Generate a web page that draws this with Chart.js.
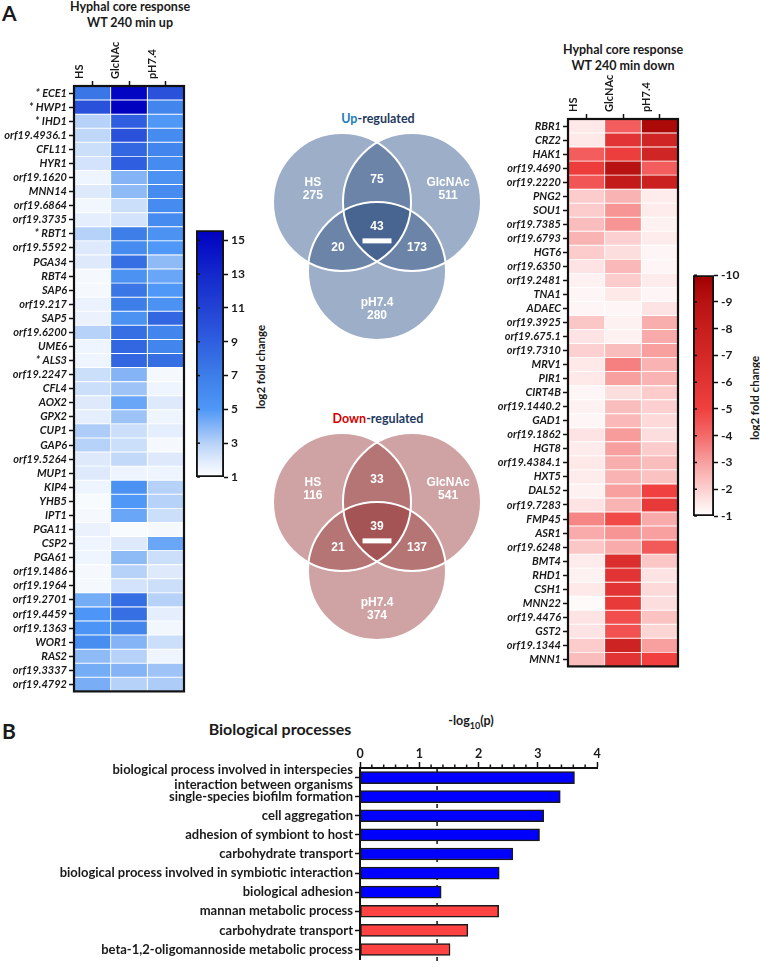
<!DOCTYPE html>
<html><head><meta charset="utf-8">
<script src="https://cdn.jsdelivr.net/npm/chart.js"></script>
<style>
body{margin:0;background:#fff;width:760px;height:974px;position:relative;overflow:hidden;font-family:Lato,'Open Sans',sans-serif;color:#1a1a1a}
canvas{position:absolute}
.t{position:absolute;font-weight:bold;white-space:nowrap}
.c{text-align:center}
.rot{transform:translate(-50%,-50%) rotate(-90deg)}
</style></head><body>
<div class="t" style="left:2px;top:0px;font-size:21px">A</div>
<div class="t c" style="left:30px;top:-1px;width:200px;line-height:16px;font-size:12.5px">Hyphal core response<br>WT 240 min up</div>
<div class="t c" style="left:523px;top:42px;width:200px;line-height:16px;font-size:12.5px">Hyphal core response<br>WT 240 min down</div>
<div class="t c" style="left:278px;top:111px;width:200px;line-height:16px;font-size:12.5px"><span style="color:#1b7db8">Up</span><span style="color:#1f3a60">-regulated</span></div>
<div class="t c" style="left:278px;top:411px;width:200px;line-height:16px;font-size:12.5px"><span style="color:#d40000">Down</span><span style="color:#1f3a60">-regulated</span></div>
<div class="t rot" style="left:260px;top:367px;font-size:11.5px">log2 fold change</div>
<div class="t rot" style="left:754px;top:398px;font-size:11.5px">log2 fold change</div>
<div class="t" style="left:2px;top:718px;font-size:21px">B</div>
<div class="t c" style="left:180px;top:720px;width:200px;line-height:18px;font-size:16px">Biological processes</div>
<div class="t c" style="left:421px;top:713px;width:100px;line-height:16px;font-size:12.5px">-log<sub style="font-size:9px">10</sub>(p)</div>

<canvas id="upHeat" width="186" height="700" style="left:0;top:0"></canvas>
<canvas id="upBar" width="70" height="270" style="left:190px;top:220px"></canvas>
<canvas id="vennUp" width="240" height="240" style="left:257px;top:105px"></canvas>
<canvas id="vennDown" width="240" height="240" style="left:257px;top:405px"></canvas>
<canvas id="downHeat" width="192" height="645" style="left:488px;top:30px"></canvas>
<canvas id="downBar" width="63" height="265" style="left:687px;top:265px"></canvas>
<canvas id="goBar" width="760" height="241" style="left:0;top:735px"></canvas>

<script>
// ---------------- data ----------------
const conditions = ['HS', 'GlcNAc', 'pH7.4'];

const upGenes = ['* ECE1','* HWP1','* IHD1','orf19.4936.1','CFL11','HYR1','orf19.1620','MNN14','orf19.6864','orf19.3735','* RBT1','orf19.5592','PGA34','RBT4','SAP6','orf19.217','SAP5','orf19.6200','UME6','* ALS3','orf19.2247','CFL4','AOX2','GPX2','CUP1','GAP6','orf19.5264','MUP1','KIP4','YHB5','IPT1','PGA11','CSP2','PGA61','orf19.1486','orf19.1964','orf19.2701','orf19.4459','orf19.1363','WOR1','RAS2','orf19.3337','orf19.4792'];
const upHS  = [7.5,10,3,2.8,2.5,2.3,1.5,2,1.4,1.8,3,2,2,1.3,1.3,1.6,1.6,3,1.5,1.5,2.5,2.5,2,1.8,3.2,3,2,2,1.5,1.2,1.3,1.6,1.5,1.5,1.3,1.3,4.3,5.2,5.3,5.8,3.8,4.3,4.2];
const upGlc = [15.3,15.5,9,10,8.5,9,4,3.8,2.5,2.3,7,6,8,5.5,7.5,7,5.5,8,8.5,8.5,4,3.5,4.5,3.5,2.5,2.5,2.7,1.5,5.5,5,4.5,1.2,2,3.8,3,2.3,8,8,6.5,4,3,4,3];
const upPH  = [10,6.5,5,6,6.5,6,5.5,6,6,6,5.5,5,3.8,4.5,5,5.5,8.5,6.5,6.5,8,1.3,1.5,2,1.5,1.8,1.3,2,1.5,3,3,2.5,1.3,4.5,2.5,2,2.5,3,1.8,1.4,2.5,1.5,3.5,3.2];

const downGenes = ['RBR1','CRZ2','HAK1','orf19.4690','orf19.2220','PNG2','SOU1','orf19.7385','orf19.6793','HGT6','orf19.6350','orf19.2481','TNA1','ADAEC','orf19.3925','orf19.675.1','orf19.7310','MRV1','PIR1','CIRT4B','orf19.1440.2','GAD1','orf19.1862','HGT8','orf19.4384.1','HXT5','DAL52','orf19.7283','FMP45','ASR1','orf19.6248','BMT4','RHD1','CSH1','MNN22','orf19.4476','GST2','orf19.1344','MNN1'];
const downHS  = [-1.5,-1.5,-4.3,-5.3,-4.5,-2.1,-2.1,-2.4,-2.6,-2.1,-1.6,-1.3,-1.2,-1.2,-2.2,-1.6,-2,-1.5,-1.5,-1.2,-1.3,-1.2,-1.6,-1.4,-1.5,-1.4,-1.3,-1.6,-3.5,-2.8,-2.2,-1.4,-1.3,-1.5,-1.1,-1.6,-1.6,-2.1,-2.4];
const downGlc = [-4.3,-6,-5.2,-9,-8.3,-2.6,-3.2,-3.2,-2,-1.7,-2.5,-2.1,-1.5,-1.2,-1.3,-1.3,-2.4,-3.6,-3,-1.7,-2.4,-2.5,-3.1,-3,-2.7,-2.6,-3,-2.6,-4.8,-3.2,-2.8,-6.5,-6,-6,-5.5,-4.7,-4.6,-7.5,-6];
const downPH  = [-9.5,-7.3,-7.3,-4.3,-7.8,-1.4,-1.4,-1.3,-1.4,-1.2,-1.2,-1.4,-1.2,-1.6,-2.7,-2.8,-3,-2.6,-2.6,-2.1,-2,-1.8,-1.7,-2.1,-2.4,-2.3,-5,-5.6,-2.8,-3,-4.4,-2.2,-1.6,-1.8,-1.7,-2.3,-1.9,-3,-5];

const upScaleTicks   = [1,3,5,7,9,11,13,15];
const downScaleTicks = [-10,-9,-8,-7,-6,-5,-4,-3,-2,-1];

const vennSets = ['HS', 'GlcNAc', 'pH7.4'];
const vennUpOnly   = [275, 511, 280];
const vennUpPairs  = [75, 20, 173];   // HS∩GlcNAc, HS∩pH7.4, GlcNAc∩pH7.4
const vennUpAll    = 43;
const vennDownOnly  = [116, 541, 374];
const vennDownPairs = [33, 21, 137];
const vennDownAll   = 39;

const processes = [['biological process involved in interspecies','interaction between organisms'],'single-species biofilm formation','cell aggregation','adhesion of symbiont to host','carbohydrate transport','biological process involved in symbiotic interaction','biological adhesion','mannan metabolic process','carbohydrate transport','beta-1,2-oligomannoside metabolic process'];
const processValues = [3.62, 3.38, 3.1, 3.03, 2.58, 2.35, 1.37, 2.34, 1.82, 1.52];
const processDir = ['up','up','up','up','up','up','up','down','down','down'];
const pThreshold = 0.05;

// ---------------- styling ----------------
Chart.defaults.font.family = "Lato, 'Open Sans', sans-serif";
Chart.defaults.color = '#1a1a1a';
Chart.defaults.animation = false;

const blueStops = [[1,[255,255,255]],[2,[222,234,252]],[3,[183,210,248]],[4,[132,180,246]],[5,[79,152,247]],[7,[61,126,232]],[9,[47,95,224]],[11,[34,66,212]],[13,[20,40,204]],[15.6,[0,0,192]]];
const redStops  = [[1,[255,255,255]],[2,[252,208,208]],[3,[248,160,160]],[4,[244,106,106]],[5,[240,64,64]],[6,[226,52,52]],[7,[212,40,40]],[8,[200,30,30]],[9,[184,18,18]],[10,[160,0,0]]];
function rgb(c){return 'rgb('+c.map(Math.round).join(',')+')';}
function lerp(stops, v){
  if (v <= stops[0][0]) return rgb(stops[0][1]);
  for (let i=1;i<stops.length;i++){
    if (v <= stops[i][0]) {
      const [a,ca] = stops[i-1], [b,cb] = stops[i];
      const t = (v-a)/(b-a);
      return rgb(ca.map((c,k)=>c+(cb[k]-c)*t));
    }
  }
  return rgb(stops[stops.length-1][1]);
}
const blueColor = v => lerp(blueStops, v);
const redColor = v => lerp(redStops, -v);

const framePlugin = {
  id:'frame',
  afterDatasetsDraw(chart){
    const a = chart.chartArea, ctx = chart.ctx;
    ctx.save(); ctx.strokeStyle = '#111'; ctx.lineWidth = 2.2;
    ctx.strokeRect(a.left, a.top, a.right-a.left, a.bottom-a.top);
    ctx.restore();
  }
};

function heatmap(id, genes, cols, colorFn, yW, xH){
  new Chart(document.getElementById(id), {
    type:'bar',
    data:{labels:genes, datasets: cols.map((vals,c)=>({
      label: conditions[c],
      data: genes.map(()=>[c, c+1]),
      backgroundColor: vals.map(colorFn),
      borderColor:'#ffffff', borderWidth:0.8, borderSkipped:false,
      barPercentage:1, categoryPercentage:1, grouped:false
    }))},
    options:{
      indexAxis:'y', responsive:false, devicePixelRatio:1, animation:false,
      layout:{padding:{left:0, top:0, right:2, bottom:8}},
      plugins:{legend:{display:false}, tooltip:{enabled:false}},
      scales:{
        x:{type:'linear', position:'top', min:0, max:3,
          afterBuildTicks: s => { s.ticks = conditions.map((_,i)=>({value:i+0.5})); },
          afterFit: s => { s.height = xH; },
          ticks:{autoSkip:false, minRotation:90, maxRotation:90, padding:2,
            callback: v => conditions[Math.floor(v)], font:{size:11, weight:'bold'}},
          grid:{drawOnChartArea:false, tickLength:5, tickColor:'#111', tickWidth:1.5},
          border:{display:false}},
        y:{afterFit: s => { s.width = yW; },
          ticks:{autoSkip:false, padding:2, font:{size:11, weight:'bold', style:'italic'}},
          grid:{offset:false, drawOnChartArea:false, tickLength:5, tickColor:'#111', tickWidth:1.5},
          border:{display:false}}
      }
    },
    plugins:[framePlugin]
  });
}
heatmap('upHeat', upGenes, [upHS, upGlc, upPH], blueColor, 74, 86);
heatmap('downHeat', downGenes, [downHS, downGlc, downPH], redColor, 80, 89);

// colour scale bars
function colorBar(id, lo, hi, tickVals, stops, sign, reverse, pad){
  const innerTicks = {
    id:'innerTicks',
    afterDatasetsDraw(chart){
      const ctx = chart.ctx, y = chart.scales.y, a = chart.chartArea;
      ctx.save(); ctx.strokeStyle = '#111'; ctx.lineWidth = 1.5;
      tickVals.forEach(v => { const p = y.getPixelForValue(v); ctx.beginPath(); ctx.moveTo(a.left+1, p); ctx.lineTo(a.left+4, p); ctx.stroke(); });
      ctx.restore();
    }
  };
  new Chart(document.getElementById(id), {
    type:'bar',
    data:{labels:[''], datasets:[{
      data:[[lo, hi]],
      backgroundColor: ctx => {
        const ch = ctx.chart; if (!ch.chartArea) return '#ccc';
        const y = ch.scales.y;
        const p0 = y.getPixelForValue(sign*stops[0][0]), p1 = y.getPixelForValue(sign*stops[stops.length-1][0]);
        const g = ch.ctx.createLinearGradient(0, p0, 0, p1);
        const s0 = stops[0][0], s1 = stops[stops.length-1][0];
        stops.forEach(([v,c]) => g.addColorStop((v-s0)/(s1-s0), rgb(c)));
        return g;
      },
      borderColor:'#111', borderWidth:2.2, borderSkipped:false,
      barPercentage:1, categoryPercentage:1
    }]},
    options:{
      responsive:false, devicePixelRatio:1, animation:false,
      layout:{padding:pad},
      plugins:{legend:{display:false}, tooltip:{enabled:false}},
      scales:{
        x:{display:false},
        y:{position:'right', min:Math.min(lo,hi), max:Math.max(lo,hi), reverse:reverse,
          afterBuildTicks: s => { s.ticks = tickVals.map(v=>({value:v})); },
          afterFit: s => { s.width = 36; },
          ticks:{padding:3, font:{size:12, weight:'bold'}},
          grid:{drawOnChartArea:false, tickLength:4, tickColor:'#111', tickWidth:1.5},
          border:{display:false}}
      }
    },
    plugins:[innerTicks]
  });
}
colorBar('upBar', 1, 15.6, upScaleTicks, blueStops, 1, false, {left:6, top:9, right:0, bottom:13});
colorBar('downBar', -10, -1, downScaleTicks, redStops, -1, true, {left:6, top:10, right:0, bottom:14});

// Venn diagrams (units: one circle radius)
function venn(id, only, pairs, all, base, pairCol, triCol){
  const centers = [[-0.507, 0.333], [0.507, 0.333], [0, -0.667]];
  const pairIdx = [[0,1],[0,2],[1,2]];
  const nameAt = [[-0.93, 0.62], [1.03, 0.62], [0, -1.12]];
  const countAt = [[-0.93, 0.42], [1.03, 0.42], [0, -1.32]];
  const pairAt = [[0, 0.65], [-0.565, -0.33], [0.58, -0.33]];
  const allAt = [0, -0.03];
  const plugin = {
    id:'venn',
    afterDraw(chart){
      const ctx = chart.ctx, xs = chart.scales.x, ys = chart.scales.y;
      const R = xs.getPixelForValue(1) - xs.getPixelForValue(0);
      const P = ([u,v]) => [xs.getPixelForValue(u), ys.getPixelForValue(v)];
      const circ = i => { const [x,y] = P(centers[i]); ctx.beginPath(); ctx.arc(x, y, R, 0, Math.PI*2); };
      ctx.save();
      for (let i=0;i<3;i++){ circ(i); ctx.fillStyle = base; ctx.fill(); }
      pairIdx.forEach(([i,j]) => { ctx.save(); circ(i); ctx.clip(); circ(j); ctx.fillStyle = pairCol; ctx.fill(); ctx.restore(); });
      ctx.save(); circ(0); ctx.clip(); circ(1); ctx.clip(); circ(2); ctx.fillStyle = triCol; ctx.fill(); ctx.restore();
      ctx.strokeStyle = '#ffffff'; ctx.lineWidth = 2;
      for (let i=0;i<3;i++){ circ(i); ctx.stroke(); }
      ctx.fillStyle = '#ffffff'; ctx.textAlign = 'center'; ctx.textBaseline = 'middle';
      ctx.font = "bold 12px 'Liberation Sans', Arial, sans-serif";
      for (let i=0;i<3;i++){
        let [x,y] = P(nameAt[i]); ctx.fillText(vennSets[i], x, y);
        [x,y] = P(countAt[i]); ctx.fillText(String(only[i]), x, y);
        [x,y] = P(pairAt[i]); ctx.fillText(String(pairs[i]), x, y);
      }
      let [x,y] = P(allAt); ctx.fillText(String(all), x, y);
      const [bx, by] = P([0, -0.23]);
      ctx.fillRect(bx - 0.21*R, by - 2.5, 0.42*R, 5);
      ctx.restore();
    }
  };
  new Chart(document.getElementById(id), {
    type:'scatter', data:{datasets:[{data:[]}]},
    options:{responsive:false, devicePixelRatio:1, animation:false,
      layout:{padding:0},
      plugins:{legend:{display:false}, tooltip:{enabled:false}},
      scales:{x:{display:false, min:-1.739, max:1.739}, y:{display:false, min:-1.739, max:1.739}}},
    plugins:[plugin]
  });
}
venn('vennUp', vennUpOnly, vennUpPairs, vennUpAll, '#9caec8', '#6b84a8', '#476590');
venn('vennDown', vennDownOnly, vennDownPairs, vennDownAll, '#cfa3a3', '#b57575', '#a45454');

// GO bar chart
const minorTicks = {
  id:'minorTicks',
  beforeDatasetsDraw(chart){
    const ctx = chart.ctx, x = chart.scales.x, a = chart.chartArea;
    ctx.save();
    ctx.strokeStyle = '#111'; ctx.lineWidth = 1.5;
    for (let v = 0.2; v < 4; v += 0.2){
      if (Math.abs(v - Math.round(v)) < 1e-6) continue;
      const p = x.getPixelForValue(v);
      ctx.beginPath(); ctx.moveTo(p, a.top); ctx.lineTo(p, a.top-3.5); ctx.stroke();
    }
    const px = x.getPixelForValue(-Math.log10(pThreshold));
    ctx.setLineDash([4,5]); ctx.lineWidth = 1.5;
    ctx.beginPath(); ctx.moveTo(px, a.top); ctx.lineTo(px, a.bottom+4); ctx.stroke();
    ctx.restore();
  }
};
new Chart(document.getElementById('goBar'), {
  type:'bar',
  data:{labels:processes, datasets:[{
    data:processValues,
    backgroundColor: processDir.map(d => d === 'up' ? '#0000ff' : '#ff4242'),
    borderColor:'#1a1a1a', borderWidth:1.5, borderSkipped:false, barThickness:12
  }]},
  options:{
    indexAxis:'y', responsive:false, devicePixelRatio:1, animation:false,
    layout:{padding:{left:0, top:0, right:163, bottom:8}},
    plugins:{legend:{display:false}, tooltip:{enabled:false}},
    scales:{
      x:{position:'top', min:0, max:4,
        afterFit: s => { s.height = 33; },
        ticks:{stepSize:1, padding:1, font:{size:12.5, weight:'bold'}},
        grid:{drawOnChartArea:false, tickLength:6, tickColor:'#111', tickWidth:1.5},
        border:{color:'#111', width:2}},
      y:{afterFit: s => { s.width = 360; },
        ticks:{autoSkip:false, padding:2, font:{size:13, weight:'bold', lineHeight:1.15}},
        grid:{offset:false, drawOnChartArea:false, tickLength:5, tickColor:'#111', tickWidth:1.5},
        border:{color:'#111', width:2}}
    }
  },
  plugins:[minorTicks]
});
</script>
</body></html>
